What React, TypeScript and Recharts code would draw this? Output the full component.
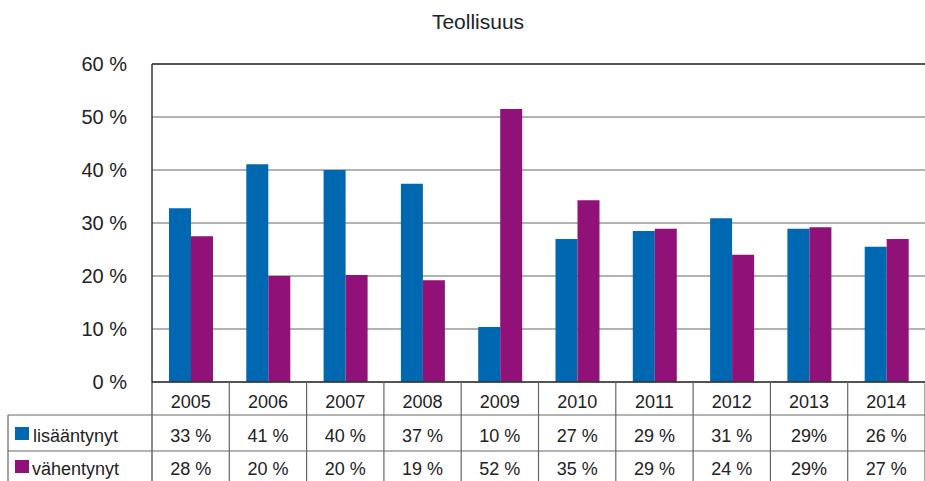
import React from 'react';
import { BarChart, Bar, XAxis, YAxis, CartesianGrid, ReferenceLine, Customized } from 'recharts';

const years = ['2005', '2006', '2007', '2008', '2009', '2010', '2011', '2012', '2013', '2014'];
const increased = [32.8, 41.1, 40.0, 37.4, 10.4, 27.0, 28.5, 30.9, 28.9, 25.5];
const decreased = [27.5, 20.0, 20.2, 19.2, 51.5, 34.3, 28.9, 24.0, 29.2, 27.0];
const increasedLabels = ['33 %', '41 %', '40 %', '37 %', '10 %', '27 %', '29 %', '31 %', '29%', '26 %'];
const decreasedLabels = ['28 %', '20 %', '20 %', '19 %', '52 %', '35 %', '29 %', '24 %', '29%', '27 %'];
const yTicks = [0, 10, 20, 30, 40, 50, 60];
const seriesNames = ['lisääntynyt', 'vähentynyt'];
const title = 'Teollisuus';

const BLUE = '#0068b1';
const PURPLE = '#901279';
const FONT = '"Liberation Sans", Arial, sans-serif';
const TEXT = '#222';
const LINE = '#666';

const W = 925;
const H = 481;
const PLOT_LEFT = 152;
const PLOT_TOP = 64;
const PLOT_BOTTOM = 382;
const ROW1 = 415;
const ROW2 = 451;
const CELL_W = (W - PLOT_LEFT) / years.length;

const data = years.map((y, i) => ({ year: y, inc: increased[i], dec: decreased[i], incLabel: increasedLabels[i], decLabel: decreasedLabels[i] }));

const XTick = (props: any) => {
  const { x, payload } = props;
  const i = payload.index;
  const d = data[i];
  const right = x + CELL_W / 2;
  return (
    <g>
      <line x1={right} x2={right} y1={PLOT_BOTTOM} y2={H} stroke={LINE} strokeWidth={1.2} />
      <text x={x} y={408} textAnchor="middle" fontFamily={FONT} fontSize={18} fill={TEXT}>{d.year}</text>
      <text x={x} y={442} textAnchor="middle" fontFamily={FONT} fontSize={18} fill={TEXT}>{d.incLabel}</text>
      <text x={x} y={475} textAnchor="middle" fontFamily={FONT} fontSize={18} fill={TEXT}>{d.decLabel}</text>
    </g>
  );
};

const YTick = (props: any) => {
  const { y, payload } = props;
  return (
    <text x={127} y={y} dy={7} textAnchor="end" fontFamily={FONT} fontSize={20} fill={TEXT}>{`${payload.value} %`}</text>
  );
};

const Extras = () => (
  <g>
    <text x={478} y={29} textAnchor="middle" fontFamily={FONT} fontSize={21} fill={TEXT}>{title}</text>
    <line x1={8} x2={W} y1={ROW1} y2={ROW1} stroke={LINE} strokeWidth={1.2} />
    <line x1={8} x2={W} y1={ROW2} y2={ROW2} stroke={LINE} strokeWidth={1.2} />
    <line x1={8} x2={8} y1={ROW1} y2={H} stroke={LINE} strokeWidth={1.2} />
    <line x1={PLOT_LEFT} x2={PLOT_LEFT} y1={PLOT_BOTTOM} y2={H} stroke={LINE} strokeWidth={1.5} />
    <rect x={15} y={427} width={14} height={13} fill={BLUE} />
    <text x={33} y={442} fontFamily={FONT} fontSize={18} fill={TEXT}>{seriesNames[0]}</text>
    <rect x={15} y={460} width={14} height={13} fill={PURPLE} />
    <text x={32} y={475} fontFamily={FONT} fontSize={18} fill={TEXT}>{seriesNames[1]}</text>
  </g>
);

export default function App() {
  return (
    <div style={{ position: 'absolute', left: 0, top: 0, width: W, height: H, background: '#fff' }}>
      <BarChart width={W} height={H} data={data} margin={{ top: PLOT_TOP, right: 0, bottom: 0, left: 0 }} barGap={0}>
        <CartesianGrid vertical={false} stroke="#999" strokeWidth={1.5} />
        <YAxis width={PLOT_LEFT} domain={[0, 60]} ticks={yTicks} tickLine={false} axisLine={{ stroke: '#333', strokeWidth: 1.5 }} tick={<YTick />} interval={0} />
        <XAxis dataKey="year" height={H - PLOT_BOTTOM} tickLine={false} axisLine={{ stroke: '#333', strokeWidth: 1.5 }} tick={<XTick />} interval={0} />
        <ReferenceLine y={60} stroke="#333" strokeWidth={1.5} />
        <Bar dataKey="inc" name={seriesNames[0]} fill={BLUE} barSize={22} isAnimationActive={false} />
        <Bar dataKey="dec" name={seriesNames[1]} fill={PURPLE} barSize={22} isAnimationActive={false} />
        <Customized component={Extras} />
      </BarChart>
    </div>
  );
}
